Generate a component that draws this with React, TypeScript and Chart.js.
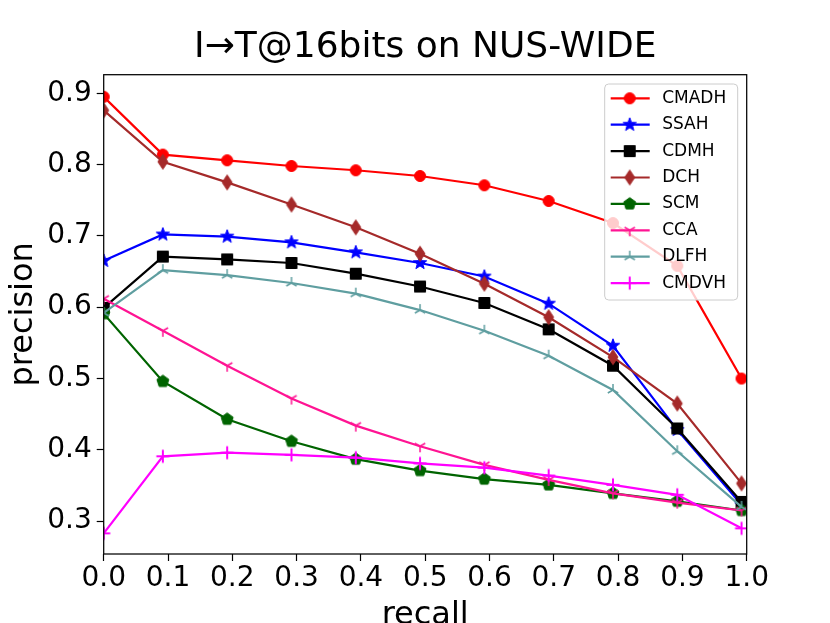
import { useEffect, useRef } from 'react';
import Chart from 'chart.js/auto';

const recall = [0, 0.092, 0.192, 0.292, 0.392, 0.492, 0.592, 0.692, 0.792, 0.892, 0.992];
const cmadh = [0.895, 0.814, 0.806, 0.798, 0.792, 0.784, 0.771, 0.749, 0.718, 0.658, 0.5];
const ssah = [0.665, 0.702, 0.699, 0.691, 0.677, 0.662, 0.643, 0.605, 0.546, 0.428, 0.323];
const cdmh = [0.599, 0.671, 0.667, 0.662, 0.647, 0.629, 0.606, 0.569, 0.518, 0.43, 0.327];
const dch = [0.876, 0.804, 0.775, 0.744, 0.712, 0.675, 0.633, 0.586, 0.53, 0.465, 0.353];
const scm = [0.591, 0.496, 0.443, 0.412, 0.387, 0.371, 0.359, 0.351, 0.339, 0.328, 0.315];
const cca = [0.612, 0.567, 0.518, 0.472, 0.434, 0.405, 0.379, 0.358, 0.339, 0.326, 0.315];
const dlfh = [0.592, 0.652, 0.645, 0.634, 0.619, 0.596, 0.567, 0.532, 0.484, 0.398, 0.32];
const cmdvh = [0.283, 0.391, 0.396, 0.393, 0.389, 0.381, 0.375, 0.364, 0.351, 0.337, 0.29];

const xTicks = [0, 0.1, 0.2, 0.3, 0.4, 0.5, 0.6, 0.7, 0.8, 0.9, 1.0];
const yTicks = [0.3, 0.4, 0.5, 0.6, 0.7, 0.8, 0.9];

const FONT = 'DejaVu Sans';

// matplotlib-like marker glyphs drawn onto small canvases
function makeMarker(kind: string, color: string): HTMLCanvasElement {
    const size = 22;
    const c = document.createElement('canvas');
    c.width = size;
    c.height = size;
    const g = c.getContext('2d')!;
    g.translate(size / 2, size / 2);
    g.fillStyle = color;
    g.strokeStyle = color;
    g.lineWidth = 1;
    g.beginPath();
    if (kind === 'circle') {
        g.arc(0, 0, 5.5, 0, Math.PI * 2);
        g.fill();
    } else if (kind === 'star') {
        for (let i = 0; i < 10; i++) {
            const r = i % 2 === 0 ? 7 : 2.9;
            const a = -Math.PI / 2 + (i * Math.PI) / 5;
            g.lineTo(r * Math.cos(a), r * Math.sin(a));
        }
        g.closePath();
        g.fill();
    } else if (kind === 'square') {
        g.rect(-5.5, -5.5, 11, 11);
        g.fill();
    } else if (kind === 'diamond') {
        g.moveTo(0, -7.5);
        g.lineTo(5, 0);
        g.lineTo(0, 7.5);
        g.lineTo(-5, 0);
        g.closePath();
        g.fill();
    } else if (kind === 'pentagon') {
        for (let i = 0; i < 5; i++) {
            const a = -Math.PI / 2 + (i * 2 * Math.PI) / 5;
            g.lineTo(6.3 * Math.cos(a), 6.3 * Math.sin(a));
        }
        g.closePath();
        g.fill();
    } else if (kind === 'tri_down' || kind === 'tri_up') {
        const s = kind === 'tri_down' ? 1 : -1;
        g.lineWidth = 1.5;
        g.moveTo(0, 0); g.lineTo(0, 6 * s);
        g.moveTo(0, 0); g.lineTo(-5.2, -3 * s);
        g.moveTo(0, 0); g.lineTo(5.2, -3 * s);
    } else if (kind === 'plus') {
        g.lineWidth = 2;
        g.moveTo(-6.5, 0); g.lineTo(6.5, 0);
        g.moveTo(0, -6.5); g.lineTo(0, 6.5);
    }
    g.stroke();
    return c;
}

const frameAndLegend = {
    id: 'frameAndLegend',
    afterDatasetsDraw(chart: any) {
        const { ctx, chartArea } = chart;
        ctx.save();
        ctx.strokeStyle = '#000';
        ctx.lineWidth = 1.25;
        ctx.strokeRect(chartArea.left, chartArea.top, chartArea.right - chartArea.left, chartArea.bottom - chartArea.top);

        const w = 133;
        const h = 216;
        const x0 = chartArea.right - 9 - w;
        const y0 = chartArea.top + 9.3;
        ctx.beginPath();
        ctx.roundRect(x0, y0, w, h, 4);
        ctx.fillStyle = 'rgba(255,255,255,0.8)';
        ctx.fill();
        ctx.strokeStyle = '#cccccc';
        ctx.lineWidth = 1;
        ctx.stroke();

        ctx.font = `17px "${FONT}"`;
        ctx.textBaseline = 'middle';
        ctx.textAlign = 'left';
        chart.data.datasets.forEach((ds: any, i: number) => {
            const y = y0 + 14.3 + i * 26.4;
            ctx.strokeStyle = ds.borderColor;
            ctx.lineWidth = ds.borderWidth;
            ctx.beginPath();
            ctx.moveTo(x0 + 6, y);
            ctx.lineTo(x0 + 45, y);
            ctx.stroke();
            const m = ds.pointStyle as HTMLCanvasElement;
            ctx.drawImage(m, x0 + 25 - m.width / 2, y - m.height / 2);
            ctx.fillStyle = '#000';
            ctx.fillText(ds.label, x0 + 57.5, y);
        });
        ctx.restore();
    }
};

export default function App() {
    const canvasRef = useRef<HTMLCanvasElement>(null);

    useEffect(() => {
        if (!canvasRef.current) return;
        const series = [
            { label: 'CMADH', data: cmadh, color: '#ff0000', marker: 'circle' },
            { label: 'SSAH', data: ssah, color: '#0000ff', marker: 'star' },
            { label: 'CDMH', data: cdmh, color: '#000000', marker: 'square' },
            { label: 'DCH', data: dch, color: '#a52a2a', marker: 'diamond' },
            { label: 'SCM', data: scm, color: '#006400', marker: 'pentagon' },
            { label: 'CCA', data: cca, color: '#ff1493', marker: 'tri_down' },
            { label: 'DLFH', data: dlfh, color: '#5f9ea0', marker: 'tri_up' },
            { label: 'CMDVH', data: cmdvh, color: '#ff00ff', marker: 'plus' },
        ];

        const chart = new Chart(canvasRef.current, {
            type: 'line',
            data: {
                datasets: series.map((s, i) => ({
                    label: s.label,
                    data: s.data.map((v, j) => ({ x: recall[j], y: v })),
                    borderColor: s.color,
                    backgroundColor: s.color,
                    borderWidth: 2.2,
                    tension: 0,
                    fill: false,
                    pointStyle: makeMarker(s.marker, s.color),
                    pointRadius: 6,
                    order: series.length - i
                }))
            },
            options: {
                responsive: true,
                maintainAspectRatio: false,
                animation: false,
                layout: { padding: { top: 26, right: 83.3, left: 0, bottom: 0 } },
                scales: {
                    x: {
                        type: 'linear',
                        min: 0,
                        max: 1,
                        afterBuildTicks: (axis: any) => { axis.ticks = xTicks.map(v => ({ value: v })); },
                        afterFit: (scale: any) => { scale.height = 69; },
                        grid: { display: true, drawOnChartArea: false, drawTicks: true, tickLength: 7, color: '#000', tickWidth: 1.2 },
                        border: { display: false },
                        ticks: {
                            color: '#000',
                            padding: 1,
                            maxRotation: 0,
                            font: { family: FONT, size: 28 },
                            callback: (v: any) => Number(v).toFixed(1)
                        },
                        title: {
                            display: true,
                            text: 'recall',
                            color: '#000',
                            font: { family: FONT, size: 32, lineHeight: 1 },
                            padding: { top: 0, bottom: -8.5 }
                        }
                    },
                    y: {
                        type: 'linear',
                        min: 0.254,
                        max: 0.926,
                        afterBuildTicks: (axis: any) => { axis.ticks = yTicks.map(v => ({ value: v })); },
                        afterFit: (scale: any) => { scale.width = 103.7; },
                        grid: { display: true, drawOnChartArea: false, drawTicks: true, tickLength: 7, color: '#000', tickWidth: 1.2 },
                        border: { display: false },
                        ticks: {
                            color: '#000',
                            padding: 5,
                            font: { family: FONT, size: 28 },
                            callback: (v: any) => Number(v).toFixed(1)
                        },
                        title: {
                            display: true,
                            text: 'precision',
                            color: '#000',
                            font: { family: FONT, size: 32, lineHeight: 1 },
                            padding: { top: 8, bottom: 0 }
                        }
                    }
                },
                plugins: {
                    legend: { display: false },
                    tooltip: { enabled: false },
                    title: {
                        display: true,
                        text: 'I→T@16bits on NUS-WIDE',
                        color: '#000',
                        fullSize: false,
                        font: { family: FONT, size: 36, weight: 'normal' },
                        padding: { top: 0, bottom: 5.5 }
                    }
                }
            },
            plugins: [frameAndLegend]
        });

        return () => chart.destroy();
    }, []);

    return (
        <div style={{ position: 'fixed', left: 0, top: 0, width: 830, height: 623, background: '#fff' }}>
            <canvas ref={canvasRef} />
        </div>
    );
}
